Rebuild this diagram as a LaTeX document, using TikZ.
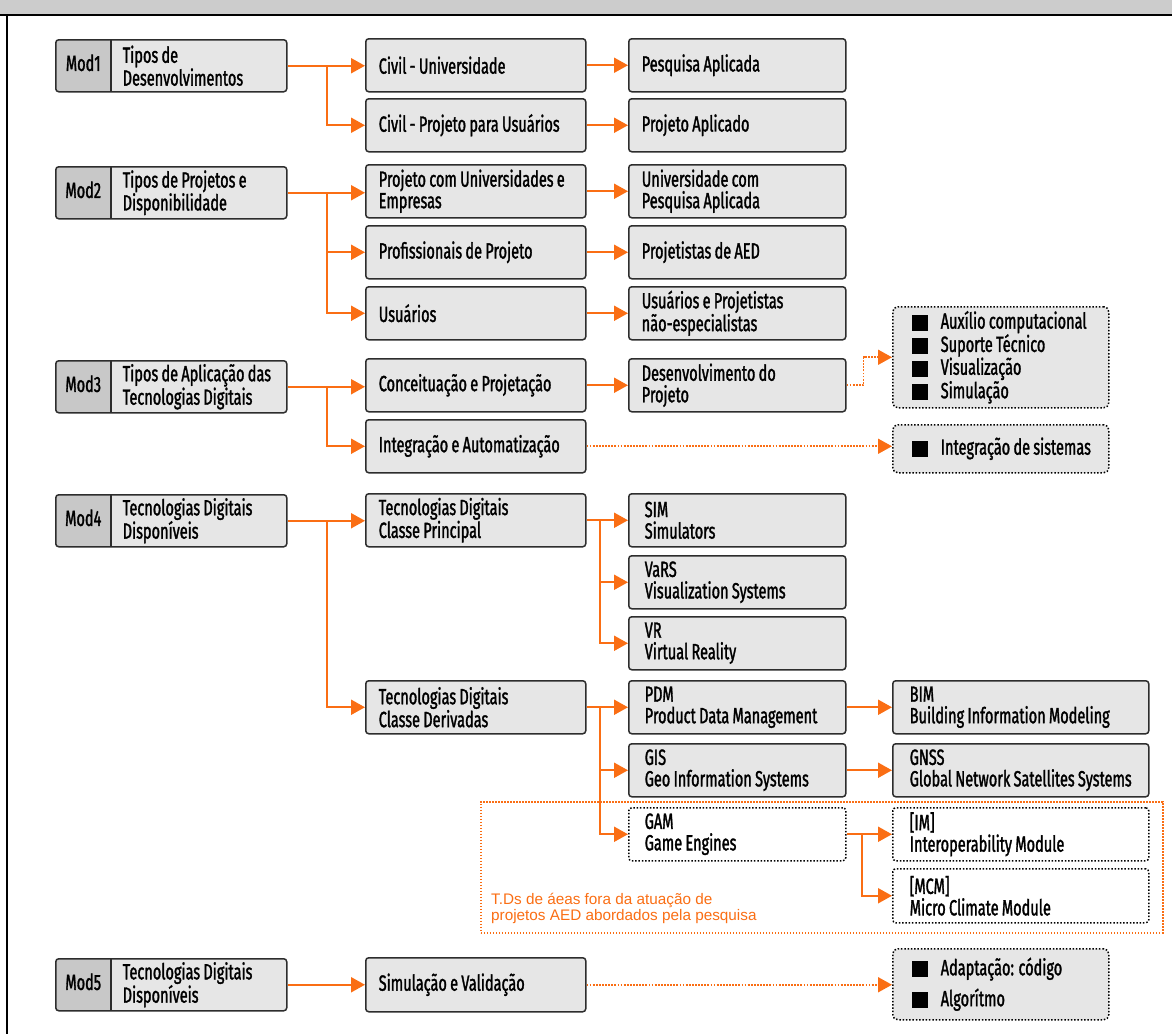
\documentclass[tikz,border=0pt]{standalone}
\usepackage{fontspec}
\setmainfont{Fira Sans}[FakeStretch=0.66, FakeBold=1.4, WordSpace=0.85]
\newfontfamily\notefont{Liberation Sans}
\usetikzlibrary{arrows.meta,calc}

\definecolor{arrowor}{RGB}{250,110,20}
\definecolor{cardfill}{RGB}{230,230,230}
\definecolor{labfill}{RGB}{200,200,200}
\definecolor{cardline}{RGB}{45,45,45}
\definecolor{hdrfill}{RGB}{204,204,204}

% label cell + description of a module box
\newcommand\modtext[2]{\makebox[55pt]{#1}\hspace{12pt}\parbox[c]{164pt}{#2}}
% black square bullet
\newcommand\blk{\hspace*{7pt}\rule[-2pt]{16pt}{16pt}\hspace{13pt}}

\tikzset{
  every node/.style={font=\fontsize{22}{21.5}\selectfont, text=black,
    execute at begin node={\hyphenpenalty=10000\exhyphenpenalty=10000}},
  card/.style={draw=cardline, fill=cardfill, line width=1.5pt, rounded corners=3pt,
    anchor=north west, inner xsep=13pt, inner ysep=0pt, align=flush left, minimum height=53pt},
  wtwo/.style={minimum width=220pt, text width=194pt},
  wthree/.style={minimum width=217pt, text width=191pt},
  wthreeb/.style={minimum width=217pt, text width=185pt, inner xsep=16pt},
  wfour/.style={minimum width=256pt, text width=222pt, inner xsep=17pt},
  dotbox/.style={card, draw=black, line width=1.5pt, dash pattern=on 1.5pt off 1.8pt},
  whitebox/.style={dotbox, fill=white},
  greybox/.style={dotbox, minimum width=216pt, text width=192pt, inner xsep=12pt,
    rounded corners=5pt},
  modbox/.style={draw=cardline, fill=cardfill, line width=1.5pt, rounded corners=3pt,
    anchor=north west, inner sep=0pt, minimum width=231pt, minimum height=52pt,
    path picture={
      \fill[labfill] (path picture bounding box.north west) rectangle
        ([xshift=55pt]path picture bounding box.south west);
      \draw[cardline, line width=1.5pt] ([xshift=55pt]path picture bounding box.north west)
        -- ([xshift=55pt]path picture bounding box.south west);}},
  arr/.style={draw=arrowor, line width=2pt, -{Triangle[length=14pt,width=15pt]}},
  darr/.style={draw=arrowor, line width=1.8pt, dash pattern=on 1.8pt off 1.3pt,
    -{Triangle[length=14pt,width=15pt]}},
}

\begin{document}
\begin{tikzpicture}[x=1pt,y=-1pt]
\useasboundingbox (0,0) rectangle (1172,1034);

% header band and page frame
\fill[hdrfill] (0,0) rectangle (1172,14.5);
\draw[line width=2.6pt] (0,15) -- (1172,15);
\draw[line width=2.8pt] (7,15) -- (7,1034);

% module boxes
\node[modbox] (m1) at (55,39)  {\modtext{Mod1}{Tipos de\\Desenvolvimentos}};
\node[modbox] (m2) at (55,166) {\modtext{Mod2}{Tipos de Projetos e\\Disponibilidade}};
\node[modbox] (m3) at (55,360) {\modtext{Mod3}{Tipos de Aplicação das\\Tecnologias Digitais}};
\node[modbox] (m4) at (55,494) {\modtext{Mod4}{Tecnologias Digitais\\Disponíveis}};
\node[modbox] (m5) at (55,958) {\modtext{Mod5}{Tecnologias Digitais\\Disponíveis}};

% second column
\node[card,wtwo] (cu)  at (365,38)  {Civil - Universidade};
\node[card,wtwo] (cp)  at (365,98)  {Civil - Projeto para Usuários};
\node[card,wtwo] (pue) at (365,164) {Projeto com Universidades e\\Empresas};
\node[card,wtwo] (pp)  at (365,225) {Profissionais de Projeto};
\node[card,wtwo] (us)  at (365,286) {Usuários};
\node[card,wtwo] (cpj) at (365,358) {Conceituação e Projetação};
\node[card,wtwo] (ia)  at (365,419) {Integração e Automatização};
\node[card,wtwo] (tdp) at (365,493) {Tecnologias Digitais\\Classe Principal};
\node[card,wtwo] (tdd) at (365,680) {Tecnologias Digitais\\Classe Derivadas};
\node[card,wtwo,minimum height=54pt] (sv) at (365,957) {Simulação e Validação};

% third column
\node[card,wthree] (pa)  at (628,38)  {Pesquisa Aplicada};
\node[card,wthree] (pap) at (628,98)  {Projeto Aplicado};
\node[card,wthree] (ucp) at (628,164) {Universidade com\\Pesquisa Aplicada};
\node[card,wthree] (pae) at (628,225) {Projetistas de AED};
\node[card,wthree] (upn) at (628,286) {Usuários e Projetistas\\não-especialistas};
\node[card,wthree] (dp)  at (628,358) {Desenvolvimento do\\Projeto};
\node[card,wthreeb] (sim)  at (628,493) {SIM\\Simulators};
\node[card,wthreeb] (vars) at (628,555) {VaRS\\Visualization Systems};
\node[card,wthreeb] (vr)   at (628,616) {VR\\Virtual Reality};
\node[card,wthreeb] (pdm)  at (628,680) {PDM\\Product Data Management};
\node[card,wthreeb] (gis)  at (628,743) {GIS\\Geo Information Systems};
\node[whitebox,wthreeb] (gam) at (628,807) {GAM\\Game Engines};

% fourth column
\node[greybox,minimum height=101pt] (aux) at (892,306)
  {\blk Auxílio computacional\\\blk Suporte Técnico\\\blk Visualização\\\blk Simulação};
\node[greybox,minimum height=48pt] (isis) at (892,424) {\blk Integração de sistemas};
\node[card,wfour] (bim)  at (892,680) {BIM\\Building Information Modeling};
\node[card,wfour] (gnss) at (892,743) {GNSS\\Global Network Satellites Systems};
\node[whitebox,wfour] (im)  at (892,807) {[IM]\\Interoperability Module};
\node[whitebox,wfour,minimum height=54pt] (mcm) at (892,868) {[MCM]\\Micro Climate Module};
\node[greybox,minimum height=71pt] (ad) at (892,948)
  {\blk Adaptação: código\\[7pt]\blk Algorítmo};

% research scope frame and its note
\node[draw=arrowor, line width=1.6pt, dash pattern=on 1.6pt off 1.4pt, anchor=north west,
  minimum width=682pt, minimum height=131pt, inner sep=0pt] (frame) at (480,801) {};
\node[font=\notefont\fontsize{15.3}{16}\selectfont, text=arrowor, anchor=north west,
  align=left, inner sep=0pt] (note) at (491,893.5)
  {T.Ds de áeas fora da atuação de\\projetos AED abordados pela pesquisa};

% Mod1 connectors
\coordinate (j1) at ($(m1.east)+(39,0)$);
\draw[arr] (m1.east) -- (m1.east -| cu.west);
\draw[arr] (j1) |- (cp.west);
\draw[arr] (cu.east) -- (pa.west);
\draw[arr] (cp.east) -- (pap.west);

% Mod2 connectors
\coordinate (j2) at ($(m2.east)+(39,0)$);
\draw[arr] (m2.east) -- (m2.east -| pue.west);
\draw[arr] (j2) |- (pp.west);
\draw[arr] (j2) |- (us.west);
\draw[arr] (pue.east) -- (ucp.west);
\draw[arr] (pp.east) -- (pae.west);
\draw[arr] (us.east) -- (upn.west);

% Mod3 connectors
\coordinate (j3) at ($(m3.east)+(39,0)$);
\draw[arr] (m3.east) -- (m3.east -| cpj.west);
\draw[arr] (j3) |- (ia.west);
\draw[arr] (cpj.east) -- (dp.west);
\draw[darr] (dp.east) -- ++(17,0) |- (aux.west);
\draw[darr] (ia.east) -- (ia.east -| isis.west);

% Mod4 connectors
\coordinate (j4) at ($(m4.east)+(39,0)$);
\draw[arr] (m4.east) -- (m4.east -| tdp.west);
\draw[arr] (j4) |- (tdd.west);
\coordinate (k1) at ($(tdp.east)+(13,0)$);
\draw[arr] (tdp.east) -- (tdp.east -| sim.west);
\draw[arr] (k1) |- (vars.west);
\draw[arr] (k1) |- (vr.west);
\coordinate (k2) at ($(tdd.east)+(13,0)$);
\draw[arr] (tdd.east) -- (pdm.west);
\draw[arr] (k2) |- (gis.west);
\draw[arr] (k2) |- (gam.west);
\draw[arr] (pdm.east) -- (bim.west);
\draw[arr] (gis.east) -- (gnss.west);
\coordinate (k3) at ($(gam.east)+(15,0)$);
\draw[arr] (gam.east) -- (im.west);
\draw[arr] (k3) |- (mcm.west);

% Mod5 connectors
\draw[arr] (m5.east) -- (m5.east -| sv.west);
\draw[darr] (sv.east) -- (sv.east -| ad.west);
\end{tikzpicture}
\end{document}
